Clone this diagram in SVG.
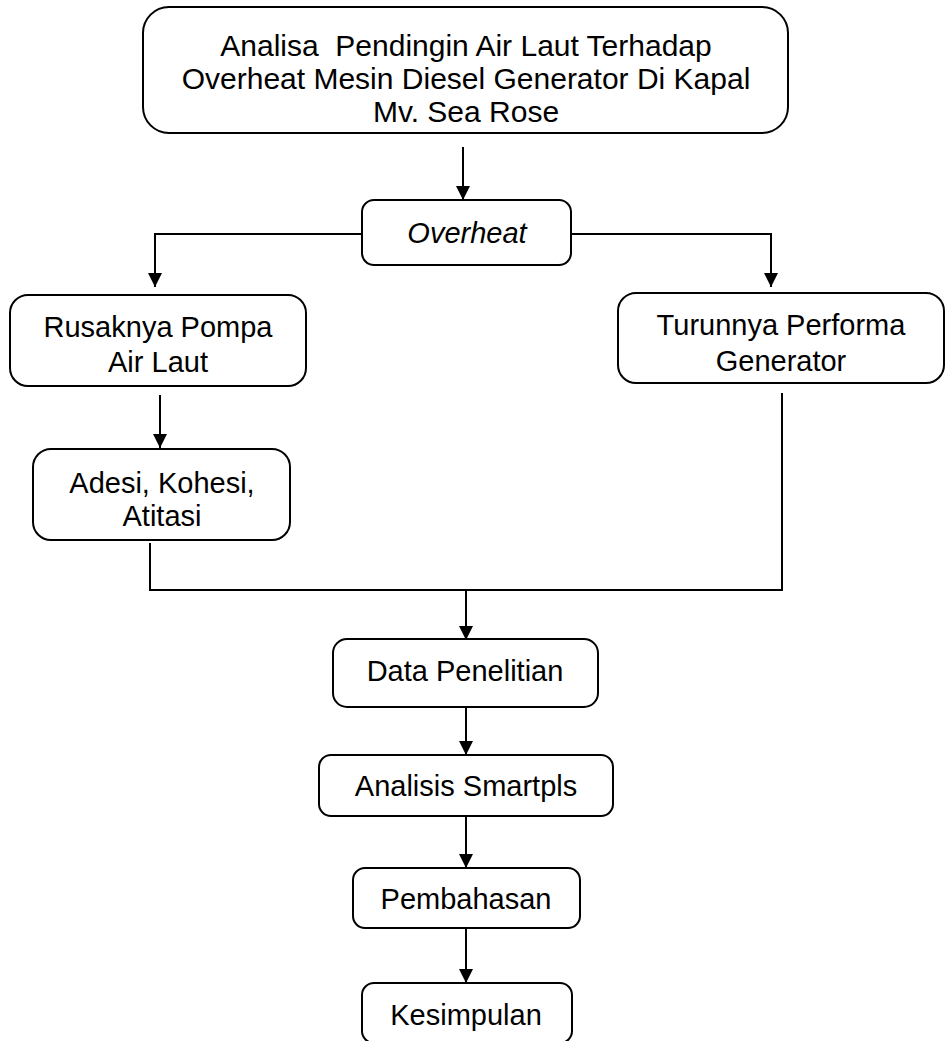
<svg xmlns="http://www.w3.org/2000/svg" width="945" height="1041" viewBox="0 0 945 1041">
<style>
.box{fill:#fff;stroke:#000;stroke-width:2}
.t{font-family:"Liberation Sans",Arial,sans-serif;font-size:29px;fill:#000;text-anchor:middle}
.tt{font-size:30px;white-space:pre}
.c{fill:none;stroke:#000;stroke-width:2}
</style>
<defs>
<marker id="ah" markerWidth="14" markerHeight="14" refX="14" refY="7" orient="auto" markerUnits="userSpaceOnUse">
<path d="M0,0 L14,7 L0,14 z" fill="#000"/>
</marker>
</defs>
<rect width="945" height="1041" fill="#fff"/>
<g id="connectors">
<line class="c" x1="463" y1="147" x2="463" y2="200" marker-end="url(#ah)"/>
<polyline class="c" points="362,234 155,234 155,287" marker-end="url(#ah)"/>
<polyline class="c" points="571,234 771,234 771,287" marker-end="url(#ah)"/>
<line class="c" x1="160" y1="395" x2="160" y2="448" marker-end="url(#ah)"/>
<polyline class="c" points="150,543 150,590 782,590 782,393"/>
<line class="c" x1="466" y1="590" x2="466" y2="640" marker-end="url(#ah)"/>
<line class="c" x1="466" y1="707" x2="466" y2="755" marker-end="url(#ah)"/>
<line class="c" x1="466" y1="816" x2="466" y2="868" marker-end="url(#ah)"/>
<line class="c" x1="466" y1="928" x2="466" y2="983" marker-end="url(#ah)"/>
</g>
<g id="title">
<rect class="box" x="143" y="7" width="645" height="126" rx="26"/>
<text class="t tt" x="466" y="56">Analisa  Pendingin Air Laut Terhadap</text>
<text class="t tt" x="466" y="89">Overheat Mesin Diesel Generator Di Kapal</text>
<text class="t tt" x="466" y="122">Mv. Sea Rose</text>
</g>
<g id="overheat">
<rect class="box" x="362" y="200" width="209" height="65" rx="12"/>
<text class="t" x="467" y="243" font-style="italic">Overheat</text>
</g>
<g id="rusaknya">
<rect class="box" x="10" y="295" width="296" height="91" rx="18"/>
<text class="t" x="158" y="337">Rusaknya Pompa</text>
<text class="t" x="158" y="372">Air Laut</text>
</g>
<g id="turunnya">
<rect class="box" x="618" y="293" width="326" height="90" rx="18"/>
<text class="t" x="781" y="335">Turunnya Performa</text>
<text class="t" x="781" y="371">Generator</text>
</g>
<g id="adesi">
<rect class="box" x="33" y="449" width="257" height="91" rx="18"/>
<text class="t" x="162" y="493">Adesi, Kohesi,</text>
<text class="t" x="162" y="526">Atitasi</text>
</g>
<g id="data">
<rect class="box" x="333" y="639" width="265" height="68" rx="14"/>
<text class="t" x="465" y="681">Data Penelitian</text>
</g>
<g id="analisis">
<rect class="box" x="319" y="755" width="294" height="61" rx="12"/>
<text class="t" x="466" y="796">Analisis Smartpls</text>
</g>
<g id="pembahasan">
<rect class="box" x="353" y="868" width="227" height="60" rx="12"/>
<text class="t" x="466" y="909">Pembahasan</text>
</g>
<g id="kesimpulan">
<rect class="box" x="362" y="983" width="210" height="60" rx="12"/>
<text class="t" x="466" y="1025">Kesimpulan</text>
</g>
</svg>
